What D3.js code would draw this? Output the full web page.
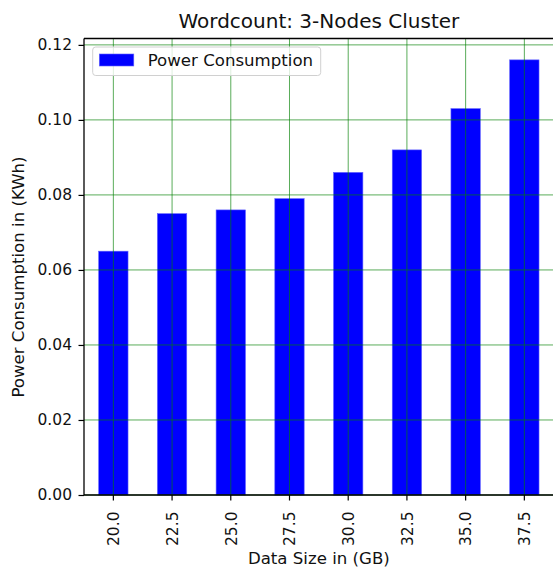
<!DOCTYPE html>
<html>
<head>
    <script src="https://d3js.org/d3.v7.min.js"></script>
    <style>
        body { margin: 0; background: #fff; }
        svg { font-family: "DejaVu Sans", sans-serif; }
    </style>
</head>
<body>
<script>
    // data
    var sizes = ["20.0", "22.5", "25.0", "27.5", "30.0", "32.5", "35.0", "37.5"];
    var power = [0.065, 0.075, 0.076, 0.079, 0.086, 0.092, 0.103, 0.116];
    var yTicks = [0.00, 0.02, 0.04, 0.06, 0.08, 0.10, 0.12];

    var W = 553, H = 570;
    var pLeft = 84, pTop = 38.5, pBottom = 495, pRight = 553.7; // right spine sits just off the canvas

    var svg = d3.select("body").append("svg")
        .attr("width", W)
        .attr("height", H);

    // category index -> x, pandas style limits (-0.5 .. n-0.5)
    var x = d3.scaleLinear()
        .domain([-0.5, sizes.length - 0.5])
        .range([pLeft, pRight]);
    var y = d3.scaleLinear()
        .domain([0, 0.1217])
        .range([pBottom, pTop]);

    var bw = x(0.25) - x(-0.25);

    // bars
    svg.append("g").selectAll("rect")
        .data(power)
        .enter().append("rect")
        .attr("x", function (d, i) { return x(i) - bw / 2; })
        .attr("y", function (d) { return y(d); })
        .attr("width", bw)
        .attr("height", function (d) { return y(0) - y(d); })
        .style("fill", "#0000ff")
        .style("stroke", "#6060ff")
        .style("stroke-width", 0.6);

    // grid on top of bars
    var grid = svg.append("g")
        .style("stroke", "green")
        .style("stroke-opacity", 0.65)
        .style("stroke-width", 1);
    grid.selectAll(".gy").data(yTicks).enter().append("line")
        .attr("x1", pLeft).attr("x2", pRight)
        .attr("y1", function (d) { return y(d); })
        .attr("y2", function (d) { return y(d); });
    grid.selectAll(".gx").data(sizes).enter().append("line")
        .attr("x1", function (d, i) { return x(i); })
        .attr("x2", function (d, i) { return x(i); })
        .attr("y1", pTop).attr("y2", pBottom);

    // spines
    var spine = svg.append("g").style("stroke", "#000").style("stroke-width", 1.3);
    spine.append("line").attr("x1", pLeft).attr("x2", pRight).attr("y1", pTop).attr("y2", pTop);
    spine.append("line").attr("x1", pLeft).attr("x2", pRight).attr("y1", pBottom).attr("y2", pBottom);
    spine.append("line").attr("x1", pLeft).attr("x2", pLeft).attr("y1", pTop).attr("y2", pBottom);
    spine.append("line").attr("x1", pRight).attr("x2", pRight).attr("y1", pTop).attr("y2", pBottom);

    // y axis
    var yAxis = d3.axisLeft(y)
        .tickValues(yTicks)
        .tickFormat(d3.format(".2f"))
        .tickSize(5.5)
        .tickPadding(6.5);
    var yg = svg.append("g")
        .attr("transform", "translate(" + pLeft + ",0)")
        .call(yAxis);
    yg.select(".domain").remove();
    yg.selectAll("text").style("font-size", "15.5px").style("fill", "#111")
        .style("font-family", "DejaVu Sans, sans-serif");
    yg.selectAll("line").style("stroke", "#000").style("stroke-width", 1.2);

    // x axis (rotated labels)
    var xg = svg.append("g")
        .attr("transform", "translate(0," + pBottom + ")");
    xg.selectAll("line").data(sizes).enter().append("line")
        .attr("x1", function (d, i) { return x(i); })
        .attr("x2", function (d, i) { return x(i); })
        .attr("y1", 0).attr("y2", 5.5)
        .style("stroke", "#000").style("stroke-width", 1.2);
    xg.selectAll("text").data(sizes).enter().append("text")
        .attr("transform", function (d, i) {
            return "translate(" + (x(i) + 5.8) + ",16.5) rotate(-90)";
        })
        .attr("text-anchor", "end")
        .style("font-size", "15.5px")
        .style("fill", "#111")
        .text(function (d) { return d; });

    // title and axis labels
    svg.append("text")
        .attr("x", (pLeft + pRight) / 2).attr("y", 28)
        .attr("text-anchor", "middle")
        .style("font-size", "20px")
        .style("fill", "#111")
        .text("Wordcount: 3-Nodes Cluster");
    svg.append("text")
        .attr("x", (pLeft + pRight) / 2).attr("y", 564)
        .attr("text-anchor", "middle")
        .style("font-size", "16.6px")
        .style("fill", "#111")
        .text("Data Size in (GB)");
    svg.append("text")
        .attr("transform", "translate(24,277) rotate(-90)")
        .attr("text-anchor", "middle")
        .style("font-size", "16.6px")
        .style("fill", "#111")
        .text("Power Consumption in (KWh)");

    // legend
    var lg = svg.append("g").attr("transform", "translate(92.7,47)");
    lg.append("rect")
        .attr("width", 228).attr("height", 28.5).attr("rx", 3)
        .style("fill", "#fff").style("fill-opacity", 0.8)
        .style("stroke", "#d0d0d0").style("stroke-width", 1);
    lg.append("rect")
        .attr("x", 6.6).attr("y", 7).attr("width", 34.5).attr("height", 12)
        .style("fill", "#0000ff").style("stroke", "#6060ff").style("stroke-width", 0.6);
    lg.append("text")
        .attr("x", 55).attr("y", 19.3)
        .style("font-size", "16.6px")
        .style("fill", "#111")
        .text("Power Consumption");
</script>
</body>
</html>
